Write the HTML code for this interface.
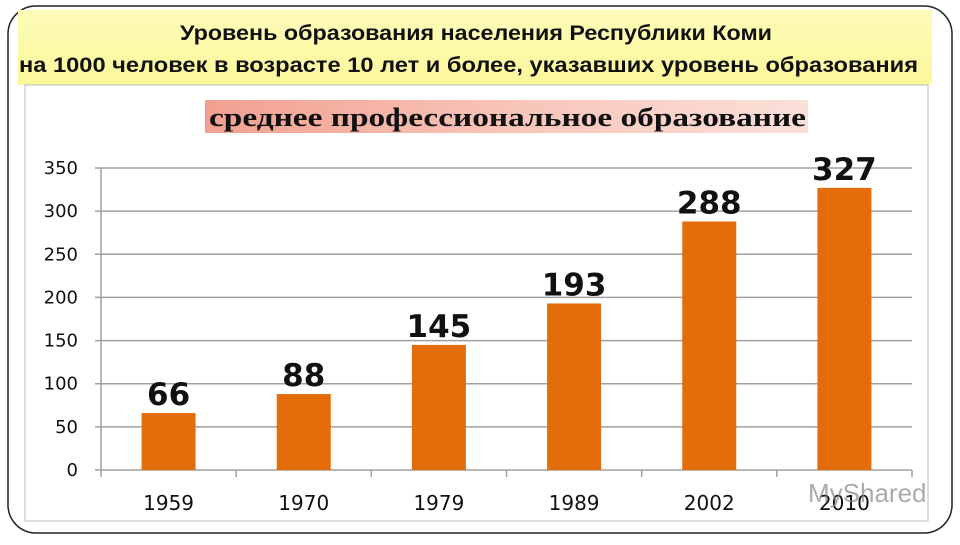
<!DOCTYPE html>
<html><head><meta charset="utf-8"><style>
body{margin:0;width:960px;height:540px;background:#fff;overflow:hidden;font-family:"Liberation Sans","DejaVu Sans",sans-serif}
</style></head><body>
<svg width="960" height="540" xmlns="http://www.w3.org/2000/svg">
<defs><linearGradient id="yg" x1="0" y1="0" x2="0" y2="1"><stop offset="0" stop-color="#fdfcb8"/><stop offset="1" stop-color="#fbf79a"/></linearGradient>
<linearGradient id="pg" x1="0" y1="0" x2="1" y2="0"><stop offset="0" stop-color="#f2a090"/><stop offset="0.5" stop-color="#f8c4b8"/><stop offset="1" stop-color="#fbe0da"/></linearGradient></defs>
<rect x="8" y="6" width="944" height="527" rx="28" fill="#fff" stroke="#222" stroke-width="1.5"/>
<rect x="18" y="10" width="914" height="75" fill="url(#yg)"/>
<rect x="25" y="85" width="903" height="436" fill="#fff" stroke="#bbb" stroke-width="1"/>
<text x="180" y="40" textLength="592" lengthAdjust="spacingAndGlyphs" font-size="21" font-weight="bold" fill="#111">Уровень образования населения Республики Коми</text>
<text x="19" y="72" textLength="899" lengthAdjust="spacingAndGlyphs" font-size="21" font-weight="bold" fill="#111">на 1000 человек в возрасте 10 лет и более, указавших уровень образования</text>
<rect x="205" y="100" width="603" height="33" fill="url(#pg)"/>
<text x="209" y="126" textLength="597" lengthAdjust="spacingAndGlyphs" font-family="Liberation Serif,serif" font-size="26" font-weight="bold" fill="#111">среднее профессиональное образование</text>
<g id="plot"></g>
<text x="808" y="502" font-size="26" fill="#888" opacity="0.7">MyShared</text>
</svg>
<script>
const categories=["1959","1970","1979","1989","2002","2010"];
const values=[66,88,145,193,288,327];
const ticks=[0,50,100,150,200,250,300,350];
const g=document.getElementById('plot');
const NS="http://www.w3.org/2000/svg";
const x0=101,x1=912,y0=470,yTop=168,maxV=350;
const bw=(x1-x0)/categories.length;
const Y=v=>y0-(v/maxV)*(y0-yTop);
const X=i=>x0+bw*(i+0.5);
const F='"DejaVu Sans",sans-serif';
function mk(t,a,txt){const e=document.createElementNS(NS,t);for(const k in a)e.setAttribute(k,a[k]);if(txt!==undefined)e.textContent=txt;g.appendChild(e);return e;}
ticks.forEach(t=>{
 const l=mk('line',{x1:x0-6,x2:x1,y1:Y(t),y2:Y(t),stroke:'#a0a0a0','stroke-width':1.5});
 
 
 const tx=mk('text',{x:78,y:Y(t)+6,'text-anchor':'end','font-size':18,'font-family':F,fill:'#111'},t);
 
 
});
const ax=mk('line',{x1:x0,x2:x0,y1:yTop,y2:y0,stroke:'#a0a0a0','stroke-width':1.5});


for(let i=0;i<=categories.length;i++){
 const tk=mk('line',{x1:x0+bw*i,x2:x0+bw*i,y1:y0,y2:y0+7,stroke:'#a0a0a0','stroke-width':1.5});
 
 
}
categories.forEach((c,i)=>{
 const r=mk('rect',{x:X(i)-27,y:Y(values[i]),width:54,height:y0-Y(values[i]),fill:'#e46c0a'});
 
 
 const v=mk('text',{x:X(i),y:Y(values[i])-8,'text-anchor':'middle','font-size':31,'font-weight':'bold','font-family':F,fill:'#111'},values[i]);
 
 
 const t=mk('text',{x:X(i),y:510,'text-anchor':'middle','font-size':20,'font-family':F,fill:'#111'},c);
 
 
});
</script>
</body></html>
